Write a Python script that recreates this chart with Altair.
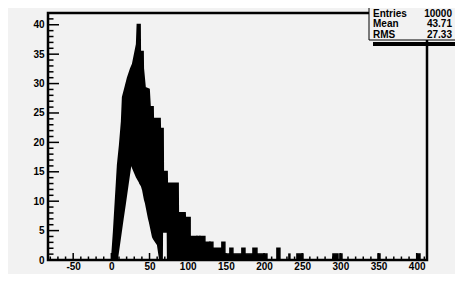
import altair as alt
import pandas as pd

# ---- main body of the histogram (envelope of the thick, noisy step line) ----
band_x  = [0.66, 3.28, 5.90, 7.21, 8.52, 11.14, 13.76, 15.07, 17.69, 21.63, 25.56, 28.18,
           30.80, 33.42, 34.34, 37.35, 37.61, 39.97, 41.28, 41.55, 43.91, 45.22, 49.15,
           50.46, 54.39, 54.65, 55.70, 60.94, 63.56, 63.83, 66.19, 66.45, 67.50, 67.76,
           72.74, 73.00, 73.79, 74.05, 87.16, 87.42, 96.33, 96.59, 102.88]
band_hi = [0.0, 4.8, 10.5, 13.3, 16.2, 19.5, 23.6, 27.7, 29.0, 31.0, 32.5, 33.3,
           35.0, 36.7, 40.0, 40.0, 35.4, 35.4, 35.4, 32.6, 29.3, 29.2, 29.0,
           26.0, 26.0, 24.0, 24.0, 24.0, 24.0, 22.3, 22.3, 22.3, 22.3, 15.0,
           15.0, 13.0, 13.0, 13.0, 13.0, 8.0, 8.0, 7.2, 7.2]
band_lo = [0.0, 0.0, 0.0, 0.0, 1.2, 3.6, 6.0, 7.2, 9.5, 13.1, 16.7, 15.7,
           14.9, 14.1, 13.9, 13.2, 13.1, 12.6, 12.0, 11.9, 10.3, 9.7, 7.1,
           6.4, 4.0, 3.9, 3.6, 2.6, 0.3, 0.0, 0.0, 4.8, 4.8, 4.8,
           4.8, 4.8, 4.8, 0.0, 0.0, 0.0, 0.0, 0.0, 0.0]

# ---- tail bins ----
tail_x0 = [102.9, 112.1, 116.0, 122.5, 129.1, 133.0, 144.8, 148.7, 155.3, 159.2, 171.0,
           175.0, 185.5, 190.7, 216.9, 232.6, 243.1, 290.3, 299.5, 349.3, 400.4]
tail_x1 = [112.1, 116.0, 122.5, 129.1, 133.0, 144.8, 148.7, 155.3, 159.2, 171.0, 175.0,
           185.5, 190.7, 203.8, 220.8, 233.9, 251.0, 296.9, 302.1, 351.9, 404.3]
tail_n  = [4, 4, 4, 3, 3, 2, 3, 1, 2, 1, 2, 1, 2, 1, 2, 1, 1, 1, 1, 1, 1]

# ---- axes ----
x_major = [-50, 0, 50, 100, 150, 200, 250, 300, 350, 400]
x_minor = [-80, -70, -60, -40, -30, -20, -10, 10, 20, 30, 40, 60, 70, 80, 90,
           110, 120, 130, 140, 160, 170, 180, 190, 210, 220, 230, 240, 260, 270, 280, 290,
           310, 320, 330, 340, 360, 370, 380, 390, 410]
y_major = [0, 5, 10, 15, 20, 25, 30, 35, 40]
y_minor = [1, 2, 3, 4, 6, 7, 8, 9, 11, 12, 13, 14, 16, 17, 18, 19, 21, 22, 23, 24,
           26, 27, 28, 29, 31, 32, 33, 34, 36, 37, 38, 39, 41]

stats_labels = ["Entries", "Mean", "RMS"]
stats_values = ["10000", "43.71", "27.33"]

X_DOM = [-83, 413.5]
Y_DOM = [0, 42]
W, H = 379, 247
BG = "#f2f2f2"
FONT = "Liberation Sans"

xs = alt.Scale(domain=X_DOM, nice=False, zero=False)
ys = alt.Scale(domain=Y_DOM, nice=False, zero=False)

xaxis = alt.Axis(values=x_major, labelExpr="'' + datum.value", ticks=False, domain=False,
                 grid=False, title=None, labelFont=FONT, labelFontWeight="bold",
                 labelFontSize=10, labelColor="black", labelPadding=1, labelFlush=False)
yaxis = alt.Axis(values=y_major, labelExpr="'' + datum.value", ticks=False, domain=False,
                 grid=False, title=None, labelFont=FONT, labelFontWeight="bold",
                 labelFontSize=10, labelColor="black", labelPadding=4, labelFlush=False)

band_df = pd.DataFrame({"x": band_x, "hi": band_hi, "lo": band_lo})
tail_df = pd.DataFrame({"x0": tail_x0, "x1": tail_x1, "n": tail_n, "z": [0] * len(tail_n)})

band = alt.Chart(band_df).mark_area(color="black", stroke="black", strokeWidth=2,
                                     interpolate="linear").encode(
    x=alt.X("x:Q", scale=xs, axis=xaxis),
    y=alt.Y("hi:Q", scale=ys, axis=yaxis),
    y2="lo:Q",
)

tail = alt.Chart(tail_df).mark_rect(color="black", stroke="black", strokeWidth=1.5).encode(
    x=alt.X("x0:Q", scale=xs, axis=xaxis),
    x2="x1:Q",
    y=alt.Y("n:Q", scale=ys, axis=yaxis),
    y2="z:Q",
)

xmaj = alt.Chart(pd.DataFrame({"v": x_major})).mark_rule(color="black", strokeWidth=1.5).encode(
    x=alt.X("v:Q", scale=xs, axis=xaxis), y=alt.value(H), y2=alt.value(H - 7))
xmin = alt.Chart(pd.DataFrame({"v": x_minor})).mark_rule(color="black", strokeWidth=1.5).encode(
    x=alt.X("v:Q", scale=xs, axis=xaxis), y=alt.value(H), y2=alt.value(H - 3.5))
ymaj = alt.Chart(pd.DataFrame({"v": y_major})).mark_rule(color="black", strokeWidth=1.5).encode(
    y=alt.Y("v:Q", scale=ys, axis=yaxis), x=alt.value(0), x2=alt.value(11))
ymin = alt.Chart(pd.DataFrame({"v": y_minor})).mark_rule(color="black", strokeWidth=1.5).encode(
    y=alt.Y("v:Q", scale=ys, axis=yaxis), x=alt.value(0), x2=alt.value(5.5))

one = pd.DataFrame({"a": [0]})
shadow = alt.Chart(one).mark_rect(color="black").encode(
    x=alt.value(325), x2=alt.value(420), y=alt.value(29), y2=alt.value(33))
box = alt.Chart(one).mark_rect(fill=BG, stroke="black", strokeWidth=1).encode(
    x=alt.value(321), x2=alt.value(420), y=alt.value(-12), y2=alt.value(27))

texts = []
for i, (lab, val) in enumerate(zip(stats_labels, stats_values)):
    yy = 3.5 + 10.5 * i
    texts.append(alt.Chart(pd.DataFrame({"t": [lab]})).mark_text(
        align="left", baseline="alphabetic", font=FONT, fontWeight="bold", fontSize=10,
        color="black").encode(text="t:N", x=alt.value(325), y=alt.value(yy)))
    texts.append(alt.Chart(pd.DataFrame({"t": [val]})).mark_text(
        align="right", baseline="alphabetic", font=FONT, fontWeight="bold", fontSize=10,
        color="black").encode(text="t:N", x=alt.value(404), y=alt.value(yy)))

chart = alt.layer(band, tail, xmaj, xmin, ymaj, ymin, shadow, box, *texts).properties(
    width=W, height=H,
    padding={"left": 40, "top": 5, "right": 28, "bottom": 14},
    autosize=alt.AutoSizeParams(type="none"),
    background=BG,
).configure_view(stroke="black", strokeWidth=2.5, fill=BG)

chart.save("out.html", embed_options={"renderer": "svg", "actions": False})
